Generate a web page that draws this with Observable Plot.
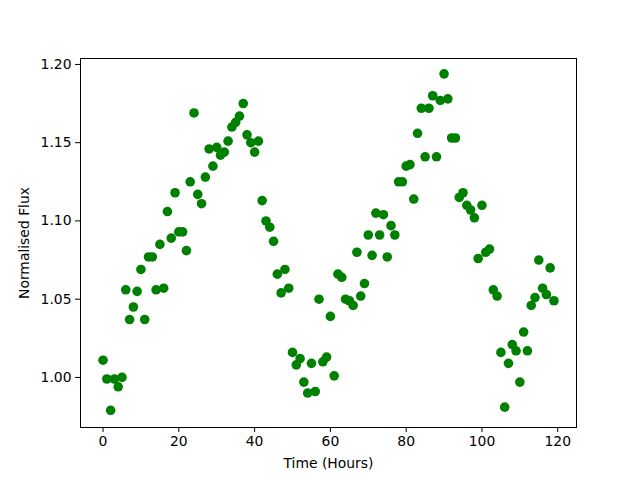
<!DOCTYPE html>
<html>
<head>
<meta charset="utf-8">
<script src="https://cdn.jsdelivr.net/npm/d3@7"></script>
<script src="https://cdn.jsdelivr.net/npm/@observablehq/plot@0.6"></script>
<style>
  html, body { margin: 0; padding: 0; background: #fff; }
  svg { font-family: "DejaVu Sans", sans-serif; }
</style>
</head>
<body>
<div id="chart"></div>
<script>
const hours = d3.range(0, 120);
const flux = [
  1.011, 0.999, 0.979, 0.999, 0.994, 1.000, 1.056, 1.037, 1.045, 1.055,
  1.069, 1.037, 1.077, 1.077, 1.056, 1.085, 1.057, 1.106, 1.089, 1.118,
  1.093, 1.093, 1.081, 1.125, 1.169, 1.117, 1.111, 1.128, 1.146, 1.135,
  1.147, 1.142, 1.144, 1.151, 1.160, 1.163, 1.167, 1.175, 1.155, 1.150,
  1.144, 1.151, 1.113, 1.100, 1.096, 1.087, 1.066, 1.054, 1.069, 1.057,
  1.016, 1.008, 1.012, 0.997, 0.990, 1.009, 0.991, 1.050, 1.010, 1.013,
  1.039, 1.001, 1.066, 1.064, 1.050, 1.049, 1.046, 1.080, 1.052, 1.060,
  1.091, 1.078, 1.105, 1.091, 1.104, 1.077, 1.097, 1.091, 1.125, 1.125,
  1.135, 1.136, 1.114, 1.156, 1.172, 1.141, 1.172, 1.180, 1.141, 1.177,
  1.194, 1.178, 1.153, 1.153, 1.115, 1.118, 1.110, 1.107, 1.102, 1.076,
  1.110, 1.080, 1.082, 1.056, 1.052, 1.016, 0.981, 1.009, 1.021, 1.017,
  0.997, 1.029, 1.017, 1.046, 1.051, 1.075, 1.057, 1.053, 1.070, 1.049
];
const xTicks = [0, 20, 40, 60, 80, 100, 120];
const yTicks = [1.00, 1.05, 1.10, 1.15, 1.20];
const data = hours.map((h, i) => ({hour: h, flux: flux[i]}));

const chart = Plot.plot({
  width: 640,
  height: 480,
  marginLeft: 80,
  marginRight: 64,
  marginTop: 58,
  marginBottom: 53,
  style: {fontFamily: "DejaVu Sans, sans-serif", fontSize: "13.9px", color: "#000", background: "#fff"},
  x: {domain: [-5.95, 124.95]},
  y: {domain: [0.968, 1.2038]},
  marks: [
    Plot.axisX({ticks: xTicks, tickSize: 5, tickPadding: 4, tickFormat: d => String(d),
      label: "Time (Hours)", labelAnchor: "center", labelArrow: "none", labelOffset: 40, fontSize: 13.9}),
    Plot.axisY({ticks: yTicks, tickSize: 5, tickPadding: 4, tickFormat: d => d.toFixed(2),
      label: "Normalised Flux", labelAnchor: "center", labelArrow: "none", labelOffset: 61, fontSize: 13.9}),
    Plot.dot(data, {x: "hour", y: "flux", r: 4.8, fill: "#008000", stroke: "none"}),
    Plot.frame({stroke: "#000", strokeWidth: 1})
  ]
});
document.getElementById("chart").appendChild(chart);
</script>
</body>
</html>
